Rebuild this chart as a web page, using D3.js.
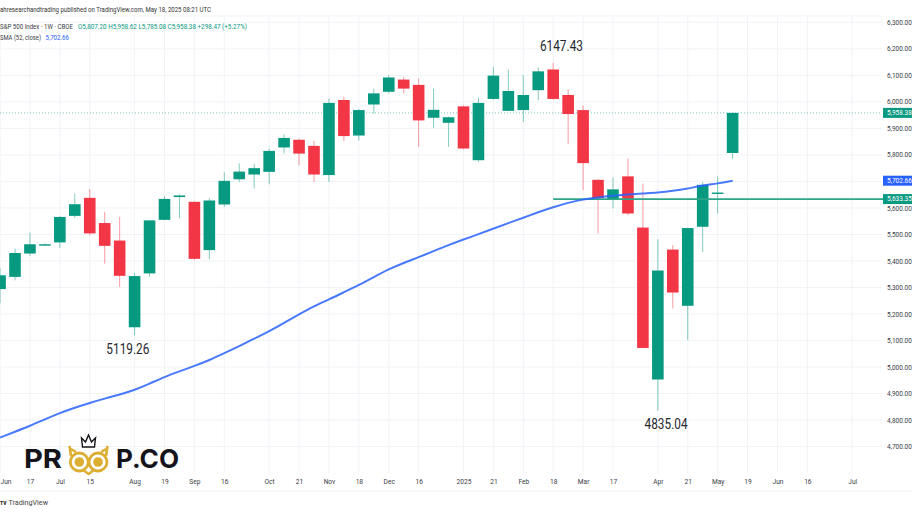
<!DOCTYPE html>
<html>
<head>
<meta charset="utf-8">
<script src="https://cdn.jsdelivr.net/npm/d3@7"></script>
<style>
html,body{margin:0;padding:0;background:#fff;overflow:hidden}
svg{display:block}
text{font-family:Roboto,"Liberation Sans",sans-serif}
</style>
</head>
<body>
<svg id="c" width="912" height="513"></svg>
<script>
const opens =[5294,5340,5428,5458,5470,5570,5638,5543,5477,5150,5353,5555,5641,5623,5441,5613,5708,5726,5736,5828,5857,5834,5724,6007,5873,5990,6038,6084,6064,5940,5921,5983,5780,6011,5966,5969,6044,6122,6026,5969,5706,5632,5719,5526,4953,5443,5231,5529,5653,5807.20];
const highs =[5373,5447,5507,5465,5569,5654,5671,5585,5566,5355,5554,5644,5652,5625,5636,5734,5768,5766,5824,5878,5862,5853,6013,6019,5973,6050,6101,6094,6088,6050,5944,5986,6016,6132,6122,6101,6130,6147.43,6047,5987,5708,5715,5786,5692,5482,5460,5526,5698,5720,5958.62];
const lows  =[5241,5327,5419,5456,5449,5562,5497,5390,5302,5119.26,5340,5554,5560,5403,5407,5604,5698,5673,5689,5805,5761,5698,5698,5853,5854,5956,6032,6032,5830,5902,5830,5821,5774,6008,5965,5924,6006,6008,5840,5667,5504,5598,5573,5071,4835.04,5221,5101,5434,5579,5785.08];
const closes=[5346,5430,5463,5463,5566,5614,5504,5457,5344,5343,5553,5634,5647,5408,5628,5702,5737,5750,5815,5864,5805,5726,5996,5871,5969,6032,6092,6050,5930,5970,5942,5824,5996,6099,6041,6026,6115,6011,5954,5769,5637,5670,5579,5072,5364,5281,5524,5687,5658,5958.38];
const smaValues=[4734,4756,4778,4803,4827,4847,4865,4881,4896,4913,4937,4963,4984,5004,5026,5052,5079,5107,5135,5167,5199,5230,5255,5282,5309,5339,5369,5393,5414,5437,5460,5481,5501,5522,5543,5563,5584,5603,5620,5632,5640,5646,5651,5655,5658,5664,5673,5685,5692,5702.66];
const xTickIndex=[0,2,4,6,9,11,13,15,18,20,22,24,26,28,31,33,35,37,39,41,44,46,48,50,52,54,57];
const xTickLabels=["Jun","17","Jul","15","Aug","19","Sep","16","Oct","21","Nov","18","Dec","16","2025","21","Feb","18","Mar","17","Apr","21","May","19","Jun","16","Jul"];
const yTicks=[6300,6200,6100,6000,5900,5800,5700,5600,5500,5400,5300,5200,5100,5000,4900,4800,4700];
const lastPrice=5958.38, smaLast=5702.66, support=5633.35, supportStartIndex=37;
const callouts=[{label:"6147.43",i:37.55,v:6192},{label:"5119.26",i:8.55,v:5049},{label:"4835.04",i:44.55,v:4768}];
const headerText="ahresearchandtrading published on TradingView.com, May 18, 2025 08:21 UTC";
const legendName="S&P 500 Index · 1W · CBOE";
const legendOHLC="O5,807.20 H5,958.62 L5,785.08 C5,958.38 +298.47 (+5.27%)";
const legendSma="SMA (52, close)";

const GREEN="#089981",RED="#f23645",BLUE="#2962ff",GRID="#f1f3f7",TXT="#3a3d46";
const svg=d3.select("#c");
const x=d3.scaleLinear().domain([0,49]).range([0.05,732.6]);
const y=d3.scaleLinear().domain([4700,6300]).range([446.6,22.3]);
const fmt=d3.format(",.2f");
const plotR=882, plotT=16, plotB=473;

// grid
svg.append("g").selectAll("line").data(yTicks).join("line")
  .attr("x1",0).attr("x2",plotR).attr("y1",d=>y(d)).attr("y2",d=>y(d)).attr("stroke",GRID);
svg.append("g").selectAll("line").data(xTickIndex).join("line")
  .attr("x1",d=>x(d)).attr("x2",d=>x(d)).attr("y1",plotT).attr("y2",plotB).attr("stroke",GRID);
svg.append("line").attr("x1",0).attr("x2",plotR).attr("y1",plotT).attr("y2",plotT).attr("stroke",GRID);
svg.append("line").attr("x1",0).attr("x2",912).attr("y1",491).attr("y2",491).attr("stroke","#eceef2");

// last price dotted
svg.append("line").attr("x1",0).attr("x2",plotR).attr("y1",y(lastPrice)).attr("y2",y(lastPrice))
  .attr("stroke",GREEN).attr("stroke-opacity",.55).attr("stroke-dasharray","1 2");

// candles
const idx=d3.range(opens.length);
const col=i=>closes[i]>=opens[i]?GREEN:RED;
svg.append("g").selectAll("line").data(idx).join("line")
  .attr("x1",i=>x(i)).attr("x2",i=>x(i)).attr("y1",i=>y(highs[i])).attr("y2",i=>y(lows[i]))
  .attr("stroke",col).attr("stroke-opacity",.5).attr("stroke-width",1);
svg.append("g").selectAll("rect").data(idx).join("rect")
  .attr("x",i=>x(i)-5.8).attr("width",11.6)
  .attr("y",i=>y(Math.max(opens[i],closes[i])))
  .attr("height",i=>Math.max(1.4,Math.abs(y(opens[i])-y(closes[i]))))
  .attr("fill",col);

// support line
svg.append("line").attr("x1",x(supportStartIndex)).attr("x2",885).attr("y1",y(support)).attr("y2",y(support))
  .attr("stroke","#2ea586").attr("stroke-width",1.6);

// SMA
svg.append("path").datum(smaValues)
  .attr("d",d3.line().x((d,i)=>x(i)).y(d=>y(d)).curve(d3.curveBasis))
  .attr("fill","none").attr("stroke",BLUE).attr("stroke-opacity",.85).attr("stroke-width",2);

// y axis labels
const yAxis=d3.axisRight(y).tickValues(yTicks).tickFormat(fmt).tickSize(0).tickPadding(0);
const gy=svg.append("g").attr("transform","translate(887,0)").call(yAxis);
gy.select(".domain").remove();
gy.selectAll("text").attr("fill",TXT).attr("font-size",6.5).style("font-family","Roboto");

// price tags
[[lastPrice,GREEN],[smaLast,BLUE],[support,GREEN]].forEach(([v,c])=>{
  svg.append("rect").attr("x",883).attr("y",y(v)-5).attr("width",29).attr("height",10).attr("fill",c);
  svg.append("text").attr("x",887).attr("y",y(v)+2.4).attr("fill","#fff").attr("font-size",6.5).text(fmt(v));
});

// x axis labels
const xAxis=d3.axisBottom(x).tickValues(xTickIndex).tickFormat((d,i)=>xTickLabels[i]).tickSize(0).tickPadding(0);
const gx=svg.append("g").attr("transform","translate(0,479.5)").call(xAxis);
gx.select(".domain").remove();
gx.selectAll("text").attr("fill",TXT).attr("font-size",6.6).style("font-family","Roboto");
gx.selectAll("text").filter((d,i)=>i===0).attr("text-anchor","start");

// header and legend
svg.append("text").attr("x",0).attr("y",12).attr("fill","#333").attr("font-size",7).attr("textLength",211).attr("lengthAdjust","spacingAndGlyphs").text(headerText);
svg.append("text").attr("x",0).attr("y",28.5).attr("fill",TXT).attr("font-size",6.8).attr("textLength",73).attr("lengthAdjust","spacingAndGlyphs").text(legendName);
svg.append("text").attr("x",78).attr("y",28.5).attr("fill",GREEN).attr("font-size",6.8).attr("textLength",169).attr("lengthAdjust","spacingAndGlyphs").text(legendOHLC);
svg.append("text").attr("x",0).attr("y",40).attr("fill",TXT).attr("font-size",6.8).attr("textLength",41).attr("lengthAdjust","spacingAndGlyphs").text(legendSma);
svg.append("text").attr("x",45.5).attr("y",40).attr("fill",BLUE).attr("font-size",6.8).attr("textLength",23.5).attr("lengthAdjust","spacingAndGlyphs").text(fmt(smaLast));

// callouts
svg.append("g").selectAll("text").data(callouts).join("text")
  .attr("x",d=>x(d.i)-21.5).attr("y",d=>y(d.v))
  .attr("fill","#26282e").attr("font-size",14.5)
  .attr("textLength",43).attr("lengthAdjust","spacingAndGlyphs")
  .text(d=>d.label);

// logo
const logo=svg.append("g");
logo.append("text").attr("x",24).attr("y",468).attr("font-size",26).attr("font-weight",700)
  .style("font-family","Inter").attr("fill","#14141a").attr("textLength",38).attr("lengthAdjust","spacingAndGlyphs").text("PR");
logo.append("text").attr("x",116).attr("y",468).attr("font-size",26).attr("font-weight",700)
  .style("font-family","Inter").attr("fill","#14141a").attr("textLength",63).attr("lengthAdjust","spacingAndGlyphs").text("P.CO");
const GOLD="#dcae32";
[79.3,98].forEach(cx=>{
  logo.append("circle").attr("cx",cx).attr("cy",462).attr("r",9).attr("fill","none").attr("stroke",GOLD).attr("stroke-width",2.8);
  logo.append("circle").attr("cx",cx).attr("cy",462).attr("r",4.8).attr("fill",GOLD);
});
logo.append("path").attr("d","M69.5 446L71 456M71 449L76 452M107.5 446L106 456M106 449L101 452M83 470L88.6 474L94 470")
  .attr("stroke",GOLD).attr("stroke-width",2.6).attr("fill","none");
logo.append("path").attr("d","M82.5 447L81.5 438L85.5 442L88.5 435L91.5 442L95.5 438L94.5 447Z").attr("fill","none").attr("stroke","#14141a").attr("stroke-width",1.4);

// footer
svg.append("text").attr("x",0).attr("y",504.5).attr("font-size",6).attr("font-weight",900).attr("fill","#222").attr("textLength",6.5).attr("lengthAdjust","spacingAndGlyphs").text("TV");
svg.append("text").attr("x",8.5).attr("y",504.5).attr("font-size",7.2).attr("fill","#444").text("TradingView");
</script>
</body>
</html>
